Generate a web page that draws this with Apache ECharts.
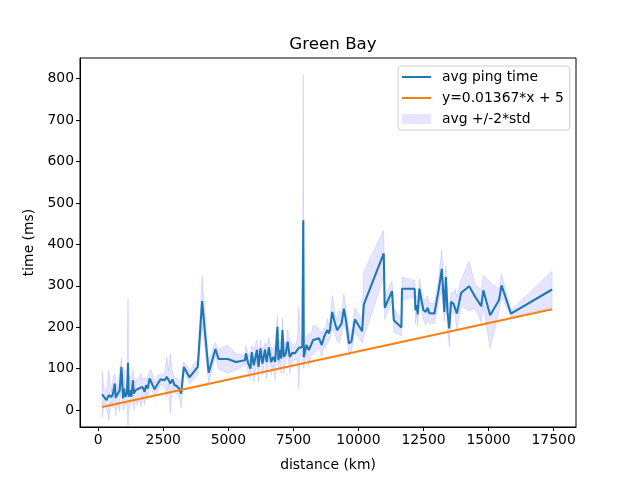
<!DOCTYPE html>
<html>
<head>
<meta charset="utf-8">
<script src="https://cdn.jsdelivr.net/npm/echarts@6/dist/echarts.min.js"></script>
<style>html,body{margin:0;padding:0;background:#fff}#c{width:640px;height:480px}</style>
</head>
<body>
<div id="c"></div>
<script>
// distance (km) of each measurement group
const distance = [150,226,318,406,509,571,636,674,739,827,892,954,992,1045,1106,1145,1172,1221,1275,1336,1370,1440,1500,1566,1640,1700,1784,1840,1900,1975,2040,2167,2294,2397,2550,2640,2700,2768,2850,2933,3020,3100,3189,3290,3507,3825,3993,4245,4502,4630,4975,5295,5640,5677,5760,5850,5900,5980,6098,6160,6235,6310,6410,6470,6560,6646,6730,6800,6888,6925,6980,7030,7080,7130,7210,7280,7360,7460,7560,7650,7710,7757,7845,7880,7900,8000,8090,8180,8255,8484,8590,8680,8740,8800,8870,8910,8993,9100,9180,9270,9350,9441,9530,9633,9730,9862,10141,10207,10972,11010,11290,11360,11650,11675,12160,12190,12230,12280,12340,12420,12500,12590,12660,12720,12920,13080,13204,13300,13360,13420,13488,13560,13650,13710,13780,13950,14254,14490,14720,14800,15060,15400,15500,15860,17442];
// average ping time (ms)
const avgPing = [38,34,24,36,31,40,64,30,32,48,104,28,52,32,42,114,32,48,32,72,40,48,44,52,48,56,44,60,52,76,74,50,64,74,72,80,79,64,74,60,58,52,40,104,79,104,263,90,147,123,123,116,120,137,114,100,140,108,145,104,149,112,146,116,151,116,128,116,201,120,145,124,193,128,137,165,128,138,137,145,150,149,153,458,128,157,145,157,169,173,157,177,173,193,185,197,237,209,193,201,209,245,213,161,165,219,190,255,378,247,287,217,199,293,293,241,253,231,293,265,241,237,247,234,233,289,341,237,321,239,197,261,257,261,233,283,299,273,251,289,229,265,301,233,291];
// standard deviation (ms)
const stdPing = [28,8,10,30,6,18,12,22,8,26,10,14,24,10,12,78,14,18,8,14,20,10,16,12,20,10,16,8,14,10,12,8,10,6,8,24,8,36,10,8,10,8,18,6,8,10,30,14,8,12,17,10,6,10,12,14,8,20,12,18,10,14,8,20,12,16,10,22,14,10,12,18,14,20,10,14,20,10,8,12,50,12,10,176,14,10,20,12,18,12,14,10,12,14,10,12,20,12,14,20,12,18,14,16,12,14,14,40,28,14,12,14,10,14,10,16,12,14,12,14,12,16,14,12,12,14,23,12,14,20,22,12,12,16,20,16,30,14,20,18,40,14,14,4,22];
// fitted line y=0.01367*x + 5, endpoints
const fitX = [150, 17442];
const fitY = [7.05, 243.4];
// tick labels
const xTicks = [0,2500,5000,7500,10000,12500,15000,17500];
const yTicks = [0,100,200,300,400,500,600,700,800];

const bandUpper = avgPing.map((v,i)=>v+2*stdPing[i]);
const bandLower = avgPing.map((v,i)=>v-2*stdPing[i]);

const FONT = 'DejaVu Sans';
// thin line icon inside a 29x10 box (invisible corner points keep the extent)
const LINE_ICON = 'path://M0,0L0.01,0M29,10L29.01,10M0,4L29,4L29,6.1L0,6.1Z';
const chart = echarts.init(document.getElementById('c'), null, {renderer:'canvas'});
chart.setOption({
  animation:false,
  backgroundColor:'#ffffff',
  textStyle:{fontFamily:FONT},
  title:{text:'Green Bay', left:328, top:31, textAlign:'center',
    textStyle:{fontFamily:FONT, fontSize:16.7, fontWeight:'normal', color:'#000'}},
  grid:{left:80, right:64, top:58, bottom:53, show:true, borderColor:'#000', borderWidth:1, backgroundColor:'transparent'},
  legend:{
    orient:'vertical', left:398, top:66,
    backgroundColor:'rgba(255,255,255,0.8)', borderColor:'#cccccc', borderWidth:1, borderRadius:3,
    padding:[4,6,4,4], itemWidth:29, itemHeight:10, itemGap:7,
    textStyle:{fontFamily:FONT, fontSize:13.9, color:'#000', padding:[0,0,0,6]},
    data:[
      {name:'avg ping time', icon:LINE_ICON, itemStyle:{color:'#1f77b4'}},
      {name:'y=0.01367*x + 5', icon:LINE_ICON, itemStyle:{color:'#ff7f0e'}},
      {name:'avg +/-2*std', icon:'rect', itemStyle:{color:'rgba(0,0,255,0.1)'}}
    ]
  },
  xAxis:{
    type:'value', min:-700, max:18360,
    name:'distance (km)', nameLocation:'middle', nameGap:31,
    nameTextStyle:{fontFamily:FONT, fontSize:13.9, color:'#000'},
    splitLine:{show:false},
    axisLine:{show:true, onZero:false, lineStyle:{color:'#000', width:1}},
    axisTick:{show:true, length:4, customValues:xTicks, lineStyle:{color:'#000'}},
    axisLabel:{customValues:xTicks, margin:6, fontFamily:FONT, fontSize:13.9, color:'#000',
      formatter:function(v){return String(v);}}
  },
  yAxis:{
    type:'value', min:-41, max:850,
    name:'time (ms)', nameLocation:'middle', nameGap:40, nameRotate:90,
    nameTextStyle:{fontFamily:FONT, fontSize:13.9, color:'#000'},
    splitLine:{show:false},
    axisLine:{show:true, onZero:false, lineStyle:{color:'#000', width:1}},
    axisTick:{show:true, length:4, customValues:yTicks, lineStyle:{color:'#000'}},
    axisLabel:{customValues:yTicks, margin:6, fontFamily:FONT, fontSize:13.9, color:'#000',
      formatter:function(v){return String(v);}}
  },
  series:[
    {
      name:'avg ping time', type:'line', z:3, symbol:'none',
      data: distance.map((d,i)=>[d, avgPing[i]]),
      lineStyle:{color:'#1f77b4', width:2.08}, itemStyle:{color:'#1f77b4'}
    },
    {
      name:'y=0.01367*x + 5', type:'line', z:3, symbol:'none',
      data: fitX.map((d,i)=>[d, fitY[i]]),
      lineStyle:{color:'#ff7f0e', width:2.08}, itemStyle:{color:'#ff7f0e'}
    },
    {
      name:'avg +/-2*std', type:'custom', z:1,
      itemStyle:{color:'rgba(0,0,255,0.1)'},
      data: distance.map((d,i)=>[d, avgPing[i]]),
      renderItem:function(params, api){
        if (params.dataIndex !== 0) return null;
        const pts = [];
        for (let i=0;i<distance.length;i++) pts.push(api.coord([distance[i], bandUpper[i]]));
        for (let i=distance.length-1;i>=0;i--) pts.push(api.coord([distance[i], bandLower[i]]));
        return {type:'polygon', shape:{points:pts},
          style:{fill:'rgba(0,0,255,0.1)', stroke:'rgba(0,0,255,0.1)', lineWidth:1}};
      }
    }
  ]
});
</script>
</body>
</html>
